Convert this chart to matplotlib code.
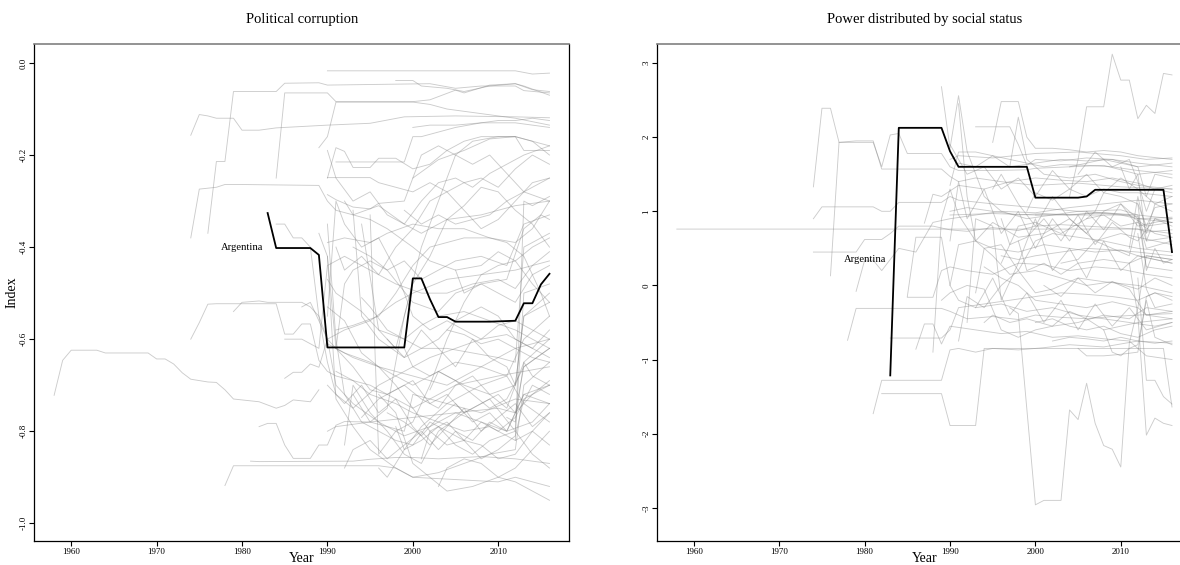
import matplotlib.pyplot as plt

plt.rcParams['font.family'] = 'Liberation Serif'

# Argentina, highlighted in both panels
arg_years_corr = [1983, 1984, 1988, 1989, 1990, 1999, 2000, 2001, 2002, 2003, 2004, 2005,
                  2009, 2012, 2013, 2014, 2015, 2016]
arg_corr = [-0.326, -0.402, -0.402, -0.417, -0.618, -0.618, -0.468, -0.468, -0.513, -0.552,
            -0.552, -0.562, -0.562, -0.56, -0.522, -0.522, -0.481, -0.458]

arg_years_power = [1983, 1984, 1989, 1990, 1991, 1999, 2000, 2005, 2006, 2007, 2015, 2016]
arg_power = [-1.214, 2.126, 2.126, 1.81, 1.60, 1.60, 1.184, 1.184, 1.20, 1.29, 1.29, 0.45]

# other countries: (years, index values)
corruption_lines = [
    ([1958, 1959, 1960, 1963, 1964, 1969, 1970, 1971, 1972, 1973, 1974, 1976, 1977, 1978, 1979, 1982, 1984, 1985, 1986, 1988, 1989],
     [-0.722, -0.646, -0.624, -0.624, -0.63, -0.63, -0.643, -0.643, -0.654, -0.673, -0.687, -0.693, -0.694, -0.71, -0.73, -0.736, -0.75, -0.744, -0.732, -0.736, -0.71]),
    ([1974, 1975, 1976, 1977, 1979, 1980, 1982, 1984, 1990, 1995, 1999, 2005, 2012, 2016],
     [-0.157, -0.112, -0.115, -0.12, -0.12, -0.146, -0.146, -0.141, -0.135, -0.131, -0.117, -0.115, -0.117, -0.119]),
    ([1976, 1977, 1978, 1979, 1984, 1985, 1989, 1990, 2002, 2005, 2008, 2012, 2013, 2016],
     [-0.37, -0.214, -0.214, -0.062, -0.062, -0.044, -0.043, -0.048, -0.045, -0.055, -0.05, -0.05, -0.06, -0.065]),
    ([1974, 1975, 1977, 1978, 1980, 1989, 1990, 1991, 1993, 1996, 1999, 2001, 2004, 2008, 2012, 2016],
     [-0.38, -0.274, -0.27, -0.264, -0.264, -0.266, -0.30, -0.32, -0.33, -0.31, -0.35, -0.37, -0.34, -0.33, -0.31, -0.30]),
    ([1974, 1975, 1976, 1977, 1984, 1985, 1986, 1987, 1988, 1989, 1990, 1991, 1995, 2000, 2005, 2010, 2016],
     [-0.6, -0.564, -0.524, -0.523, -0.523, -0.589, -0.589, -0.567, -0.567, -0.646, -0.67, -0.68, -0.7, -0.75, -0.7, -0.68, -0.66]),
    ([1978, 1979, 1996, 1998, 2000, 2005, 2010, 2012, 2016],
     [-0.918, -0.875, -0.875, -0.88, -0.9, -0.905, -0.91, -0.9, -0.92]),
    ([1981, 1982, 1993, 1995, 1998, 2000, 2003, 2008, 2012, 2016],
     [-0.865, -0.866, -0.865, -0.861, -0.857, -0.857, -0.86, -0.855, -0.86, -0.87]),
    ([1982, 1983, 1984, 1985, 1986, 1988, 1989, 1990, 1991, 1992, 1995, 1999, 2000, 2004, 2008, 2012, 2016],
     [-0.79, -0.783, -0.783, -0.83, -0.859, -0.859, -0.83, -0.83, -0.787, -0.779, -0.78, -0.80, -0.72, -0.74, -0.76, -0.73, -0.74]),
    ([1979, 1980, 1982, 1983, 1985, 1987, 1988, 1989, 1990, 1992, 1995, 1998, 2000, 2004, 2008, 2012, 2016],
     [-0.54, -0.52, -0.517, -0.52, -0.52, -0.52, -0.53, -0.55, -0.6, -0.58, -0.56, -0.52, -0.50, -0.47, -0.46, -0.45, -0.43]),
    ([1985, 1986, 1987, 1988, 1989, 1990, 1991, 1993, 1996, 2000, 2004, 2008, 2012, 2016],
     [-0.685, -0.672, -0.672, -0.654, -0.661, -0.60, -0.62, -0.64, -0.66, -0.68, -0.7, -0.66, -0.62, -0.6]),
    ([1984, 1985, 1990, 1991, 2000, 2002, 2005, 2006, 2009, 2012, 2014, 2016],
     [-0.25, -0.065, -0.065, -0.084, -0.084, -0.08, -0.059, -0.065, -0.048, -0.045, -0.058, -0.062]),
    ([1990, 2012, 2014, 2016], [-0.017, -0.017, -0.024, -0.022]),
    ([1998, 2000, 2001, 2004, 2006, 2009, 2012, 2013, 2016],
     [-0.038, -0.038, -0.05, -0.055, -0.062, -0.05, -0.045, -0.05, -0.07]),
    ([1989, 1990, 1991, 2000, 2002, 2004, 2008, 2012, 2016],
     [-0.184, -0.16, -0.085, -0.085, -0.09, -0.1, -0.11, -0.12, -0.135]),
    ([1990, 1991, 1992, 1993, 1995, 1996, 1998, 2000, 2002, 2004, 2006, 2008, 2010, 2012, 2013, 2016],
     [-0.25, -0.184, -0.192, -0.227, -0.227, -0.207, -0.207, -0.23, -0.22, -0.19, -0.17, -0.16, -0.16, -0.16, -0.19, -0.19]),
    ([1990, 1991, 1993, 1995, 1996, 1999, 2000, 2003, 2006, 2009, 2012, 2014, 2016],
     [-0.286, -0.297, -0.313, -0.317, -0.305, -0.30, -0.25, -0.21, -0.19, -0.165, -0.16, -0.17, -0.2]),
    ([1991, 1999, 2000, 2001, 2003, 2005, 2008, 2012, 2016],
     [-0.215, -0.215, -0.16, -0.16, -0.15, -0.14, -0.13, -0.13, -0.14]),
    ([1990, 1995, 1996, 1998, 2000, 2002, 2004, 2006, 2008, 2010, 2012, 2014, 2016],
     [-0.249, -0.249, -0.26, -0.27, -0.28, -0.26, -0.28, -0.26, -0.25, -0.27, -0.23, -0.2, -0.22]),
    ([1993, 1995, 1997, 1999, 2001, 2003, 2005, 2007, 2010, 2012, 2016],
     [-0.72, -0.78, -0.75, -0.55, -0.4, -0.3, -0.2, -0.17, -0.16, -0.16, -0.18]),
    ([1994, 1996, 1998, 2000, 2002, 2004, 2006, 2008, 2010, 2012, 2014, 2016],
     [-0.35, -0.58, -0.62, -0.48, -0.42, -0.34, -0.31, -0.27, -0.28, -0.32, -0.35, -0.4]),
    ([1990, 1991, 1992, 1994, 1996, 1998, 2000, 2002, 2004, 2006, 2008, 2010, 2012, 2014, 2016],
     [-0.35, -0.6, -0.72, -0.78, -0.8, -0.82, -0.83, -0.78, -0.8, -0.82, -0.83, -0.86, -0.85, -0.8, -0.76]),
    ([1990, 1991, 1993, 1995, 1997, 1999, 2001, 2003, 2005, 2007, 2009, 2011, 2013, 2016],
     [-0.42, -0.62, -0.66, -0.71, -0.72, -0.7, -0.73, -0.75, -0.7, -0.68, -0.72, -0.75, -0.65, -0.6]),
    ([1989, 1990, 1991, 1993, 1995, 1998, 2000, 2003, 2006, 2009, 2012, 2013, 2016],
     [-0.37, -0.42, -0.73, -0.79, -0.84, -0.88, -0.9, -0.89, -0.87, -0.85, -0.84, -0.7, -0.65]),
    ([1990, 1992, 1994, 1996, 1998, 2000, 2002, 2004, 2006, 2008, 2010, 2012, 2014, 2016],
     [-0.53, -0.56, -0.63, -0.66, -0.7, -0.75, -0.8, -0.83, -0.82, -0.78, -0.8, -0.77, -0.7, -0.72]),
    ([1991, 1992, 1993, 1995, 1997, 2000, 2003, 2005, 2008, 2011, 2013, 2015, 2016],
     [-0.62, -0.48, -0.45, -0.43, -0.45, -0.52, -0.54, -0.5, -0.48, -0.47, -0.36, -0.33, -0.34]),
    ([1993, 1994, 1996, 1999, 2000, 2003, 2005, 2008, 2010, 2012, 2014, 2016],
     [-0.32, -0.55, -0.6, -0.64, -0.63, -0.6, -0.56, -0.53, -0.55, -0.6, -0.62, -0.58]),
    ([1992, 1993, 1995, 1997, 1999, 2001, 2003, 2006, 2009, 2012, 2013, 2016],
     [-0.83, -0.7, -0.76, -0.8, -0.85, -0.87, -0.8, -0.76, -0.73, -0.8, -0.5, -0.48]),
    ([1996, 1998, 2000, 2002, 2004, 2007, 2010, 2012, 2014, 2016],
     [-0.72, -0.76, -0.87, -0.9, -0.93, -0.92, -0.9, -0.91, -0.93, -0.95]),
    ([1998, 1999, 2001, 2003, 2005, 2007, 2009, 2012, 2014, 2016],
     [-0.79, -0.84, -0.82, -0.79, -0.83, -0.85, -0.82, -0.8, -0.85, -0.88]),
    ([2003, 2004, 2006, 2008, 2010, 2012, 2014, 2016],
     [-0.92, -0.88, -0.86, -0.87, -0.9, -0.88, -0.84, -0.8]),
    ([1999, 2000, 2002, 2005, 2008, 2011, 2013, 2016],
     [-0.62, -0.66, -0.68, -0.65, -0.66, -0.68, -0.6, -0.55]),
    ([1990, 1991, 1994, 1996, 1999, 2001, 2004, 2007, 2010, 2012, 2013, 2016],
     [-0.47, -0.5, -0.54, -0.58, -0.6, -0.62, -0.62, -0.63, -0.64, -0.65, -0.4, -0.37]),
    ([1991, 1993, 1996, 1998, 2000, 2002, 2004, 2006, 2009, 2012, 2014, 2016],
     [-0.58, -0.57, -0.55, -0.5, -0.44, -0.4, -0.39, -0.38, -0.38, -0.39, -0.36, -0.3]),
    ([1994, 1996, 1998, 2000, 2002, 2004, 2006, 2008, 2010, 2012, 2014, 2016],
     [-0.77, -0.73, -0.71, -0.69, -0.74, -0.72, -0.76, -0.74, -0.72, -0.76, -0.72, -0.69]),
    ([1997, 1999, 2001, 2003, 2005, 2007, 2009, 2011, 2013, 2016],
     [-0.76, -0.78, -0.81, -0.77, -0.74, -0.78, -0.76, -0.8, -0.72, -0.7]),
    ([1990, 1992, 1995, 1998, 2000, 2003, 2006, 2009, 2012, 2013, 2016],
     [-0.61, -0.63, -0.65, -0.68, -0.7, -0.67, -0.7, -0.72, -0.7, -0.55, -0.5]),
    ([1985, 1987, 1989, 1990, 1992, 1995, 1998, 2001, 2004, 2007, 2010, 2012, 2014, 2016],
     [-0.6, -0.6, -0.62, -0.44, -0.42, -0.45, -0.48, -0.5, -0.5, -0.48, -0.47, -0.49, -0.44, -0.41]),
    ([1987, 1988, 1989, 1990, 1991, 1993, 1996, 1999, 2002, 2005, 2008, 2011, 2014, 2016],
     [-0.53, -0.52, -0.56, -0.6, -0.7, -0.74, -0.78, -0.81, -0.79, -0.76, -0.78, -0.8, -0.78, -0.74]),
    ([1984, 1985, 1986, 1987, 1988, 1989, 1990, 1991, 1993, 1996, 1999, 2002, 2005, 2008, 2011, 2014, 2016],
     [-0.35, -0.35, -0.38, -0.38, -0.4, -0.55, -0.65, -0.72, -0.75, -0.7, -0.67, -0.64, -0.62, -0.6, -0.59, -0.62, -0.64]),
    ([2004, 2006, 2008, 2010, 2012, 2014, 2016],
     [-0.58, -0.59, -0.61, -0.6, -0.62, -0.64, -0.65]),
    ([1999, 2001, 2003, 2005, 2007, 2009, 2011, 2013, 2016],
     [-0.32, -0.35, -0.33, -0.35, -0.34, -0.33, -0.3, -0.28, -0.25]),
    ([1990, 1992, 1995, 1997, 2000, 2003, 2006, 2009, 2011, 2013, 2015, 2016],
     [-0.39, -0.38, -0.39, -0.37, -0.35, -0.36, -0.36, -0.38, -0.39, -0.42, -0.5, -0.55]),
    ([1996, 1997, 1999, 2001, 2004, 2006, 2008, 2011, 2013, 2016],
     [-0.88, -0.9, -0.84, -0.79, -0.74, -0.72, -0.7, -0.68, -0.74, -0.78]),
    ([2001, 2002, 2004, 2006, 2008, 2010, 2012, 2013, 2016],
     [-0.86, -0.8, -0.78, -0.82, -0.86, -0.84, -0.81, -0.73, -0.7]),
    ([1992, 1993, 1995, 1997, 2000, 2002, 2005, 2008, 2010, 2012, 2014, 2016],
     [-0.3, -0.33, -0.34, -0.36, -0.4, -0.43, -0.45, -0.44, -0.41, -0.43, -0.48, -0.52]),
    ([1990, 1991, 1995, 2000, 2005, 2010, 2012, 2013, 2016],
     [-0.8, -0.79, -0.78, -0.77, -0.76, -0.75, -0.76, -0.66, -0.62]),
    ([2002, 2003, 2005, 2007, 2009, 2011, 2013, 2016],
     [-0.71, -0.67, -0.69, -0.72, -0.75, -0.73, -0.66, -0.62]),
    ([1994, 1995, 1997, 1999, 2001, 2003, 2006, 2009, 2012, 2014, 2016],
     [-0.51, -0.53, -0.58, -0.6, -0.57, -0.55, -0.54, -0.56, -0.58, -0.6, -0.62]),
    ([1991, 1993, 1995, 1998, 2000, 2003, 2006, 2009, 2012, 2014, 2016],
     [-0.67, -0.69, -0.72, -0.74, -0.76, -0.78, -0.8, -0.79, -0.82, -0.8, -0.83]),
    ([2012, 2013, 2014, 2016], [-0.82, -0.3, -0.31, -0.29]),
    ([2011, 2012, 2013, 2014, 2016], [-0.77, -0.78, -0.65, -0.68, -0.7]),
    ([2000, 2002, 2005, 2008, 2010, 2012, 2014, 2016],
     [-0.14, -0.135, -0.135, -0.13, -0.125, -0.125, -0.12, -0.125]),
    ([1990, 1991, 1993, 1995, 1997, 1999, 2001, 2003, 2005, 2007, 2009, 2011, 2013, 2016],
     [-0.19, -0.25, -0.3, -0.28, -0.33, -0.35, -0.3, -0.26, -0.25, -0.27, -0.24, -0.22, -0.2, -0.18]),
    ([1991, 1992, 1994, 1996, 1998, 2000, 2002, 2004, 2006, 2008, 2010, 2012, 2014, 2016],
     [-0.4, -0.45, -0.42, -0.46, -0.4, -0.36, -0.3, -0.28, -0.32, -0.36, -0.34, -0.3, -0.26, -0.25]),
    ([1995, 1996, 1998, 2000, 2002, 2004, 2006, 2008, 2010, 2012, 2014, 2016],
     [-0.33, -0.85, -0.8, -0.78, -0.7, -0.6, -0.52, -0.46, -0.44, -0.43, -0.4, -0.38]),
    ([1990, 1992, 1994, 1996, 1998, 2000, 2002, 2004, 2006, 2008, 2010, 2012, 2014, 2016],
     [-0.7, -0.74, -0.7, -0.76, -0.73, -0.79, -0.83, -0.79, -0.75, -0.8, -0.77, -0.74, -0.79, -0.76]),
    ([1997, 1999, 2001, 2003, 2005, 2007, 2009, 2011, 2012, 2013, 2016],
     [-0.6, -0.64, -0.58, -0.62, -0.66, -0.6, -0.64, -0.66, -0.7, -0.55, -0.52]),
    ([2000, 2001, 2003, 2005, 2007, 2009, 2011, 2013, 2016],
     [-0.25, -0.2, -0.18, -0.2, -0.22, -0.2, -0.24, -0.28, -0.3]),
    ([1992, 1993, 1995, 1997, 1999, 2001, 2003, 2005, 2007, 2009, 2011, 2013, 2016],
     [-0.88, -0.84, -0.82, -0.86, -0.83, -0.8, -0.84, -0.8, -0.82, -0.78, -0.8, -0.72, -0.74]),
    ([2005, 2006, 2008, 2010, 2012, 2014, 2016],
     [-0.45, -0.5, -0.48, -0.5, -0.52, -0.46, -0.44]),
    ([1990, 1991, 1992, 1994, 1996, 1998, 2000, 2002, 2004, 2006, 2008, 2010, 2012, 2014, 2016],
     [-0.55, -0.3, -0.35, -0.4, -0.38, -0.45, -0.55, -0.58, -0.56, -0.58, -0.6, -0.57, -0.56, -0.58, -0.6]),
    ([1993, 1995, 1997, 1999, 2001, 2003, 2005, 2008, 2011, 2013, 2016],
     [-0.4, -0.42, -0.45, -0.43, -0.47, -0.45, -0.43, -0.42, -0.44, -0.35, -0.33]),
]

power_lines = [
    ([1958, 2012, 2013, 2016], [0.76, 0.76, 0.72, 0.75]),
    ([1974, 1975, 1976, 1977, 1981, 1982, 1983, 1984, 1985, 1989, 1990, 1991, 1995, 1999, 2000, 2004, 2008, 2012, 2016],
     [1.33, 2.39, 2.39, 1.93, 1.93, 1.6, 2.03, 2.05, 1.78, 1.78, 1.6, 1.55, 1.55, 1.56, 1.58, 1.6, 1.62, 1.5, 1.55]),
    ([1974, 1975, 1981, 1982, 1983, 1984, 1989, 1990, 1991, 1995, 2000, 2005, 2010, 2012, 2016],
     [0.9, 1.06, 1.06, 1.0, 1.0, 1.12, 1.12, 1.2, 1.15, 1.1, 1.05, 1.0, 1.02, 0.95, 0.9]),
    ([1974, 1979, 1980, 1982, 1983, 1984, 1985, 1988, 1990, 1992, 1995, 1998, 2000, 2003, 2006, 2009, 2012, 2016],
     [0.45, 0.45, 0.62, 0.62, 0.7, 0.8, 0.8, 0.8, 0.75, 0.73, 0.78, 0.74, 0.8, 0.82, 0.8, 0.78, 0.76, 0.7]),
    ([1976, 1977, 1979, 1981, 1982, 1989, 1990, 1991, 1993, 1996, 2000, 2005, 2010, 2016],
     [0.13, 1.93, 1.95, 1.95, 1.57, 1.57, 1.47, 1.4, 1.45, 1.4, 1.35, 1.38, 1.33, 1.3]),
    ([1978, 1979, 1989, 1990, 1992, 1995, 1998, 2000, 2003, 2006, 2009, 2012, 2016],
     [-0.74, -0.31, -0.31, -0.35, -0.45, -0.42, -0.46, -0.4, -0.43, -0.45, -0.42, -0.4, -0.38]),
    ([1981, 1982, 1989, 1990, 1991, 1993, 1995, 1998, 2001, 2004, 2008, 2012, 2016],
     [-1.73, -1.28, -1.28, -0.87, -0.85, -0.9, -0.85, -0.87, -0.84, -0.8, -0.83, -0.75, -0.78]),
    ([1982, 1989, 1990, 1993, 1994, 2015, 2016],
     [-1.46, -1.46, -1.89, -1.89, -0.85, -0.85, -1.64]),
    ([1997, 1998, 2000, 2001, 2003, 2004, 2005, 2006, 2007, 2008, 2009, 2010, 2011, 2012, 2013, 2016],
     [-0.3, -0.38, -2.96, -2.9, -2.9, -1.68, -1.81, -1.32, -1.86, -2.16, -2.21, -2.45, -0.78, -0.3, -0.4, -0.45]),
    ([2004, 2005, 2006, 2008, 2009, 2010, 2011, 2012, 2013, 2014, 2015, 2016],
     [1.2, 1.7, 2.41, 2.41, 3.12, 2.77, 2.77, 2.25, 2.43, 2.32, 2.86, 2.84]),
    ([1995, 1996, 1998, 1999, 2000, 2002, 2004, 2006, 2008, 2010, 2012, 2016],
     [1.93, 2.48, 2.48, 2.0, 1.85, 1.85, 1.83, 1.8, 1.82, 1.8, 1.75, 1.7]),
    ([1993, 1997, 1998, 1999, 2000, 2003, 2006, 2009, 2012, 2016],
     [2.14, 2.14, 1.9, 1.62, 1.7, 1.68, 1.72, 1.7, 1.65, 1.6]),
    ([1997, 1998, 1999, 2001, 2004, 2007, 2010, 2012, 2016],
     [1.6, 2.27, 1.7, 1.5, 1.45, 1.5, 1.4, 1.35, 1.3]),
    ([1989, 1990, 1991, 1992, 1994, 1996, 1999, 2002, 2005, 2008, 2011, 2013, 2016],
     [2.68, 1.85, 2.56, 1.81, 1.2, 1.0, 0.9, 0.95, 1.0, 0.98, 0.95, 0.8, 0.85]),
    ([1991, 1992, 1993, 1995, 1998, 2001, 2004, 2007, 2010, 2012, 2014, 2016],
     [2.45, 1.2, 0.6, 0.5, 0.45, 0.55, 0.5, 0.45, 0.48, 0.4, 0.35, 0.3]),
    ([1985, 1988, 1989, 1990, 1992, 1995, 1998, 2001, 2004, 2007, 2010, 2013, 2016],
     [-0.16, -0.16, 0.2, 0.25, 0.2, 0.15, 0.3, 0.28, 0.2, 0.25, 0.22, 0.15, 0.1]),
    ([1986, 1987, 1988, 1989, 1990, 1993, 1996, 1999, 2002, 2005, 2008, 2011, 2013, 2016],
     [-0.86, -0.52, -0.52, -0.79, -0.55, -0.6, -0.65, -0.62, -0.7, -0.68, -0.72, -0.75, -0.95, -1.0]),
    ([1983, 1989, 1990, 1991, 1994, 1997, 2000, 2003, 2006, 2009, 2012, 2014, 2016],
     [-0.71, -0.71, -0.6, -0.3, -0.25, -0.2, -0.15, -0.1, -0.12, -0.15, -0.2, -0.1, -0.15]),
    ([1979, 1980, 1981, 1982, 1984, 1986, 1988, 1990, 1993, 1996, 2000, 2004, 2008, 2012, 2016],
     [-0.08, 0.34, 0.34, 0.2, 0.5, 0.45, 0.85, 0.9, 0.95, 1.0, 0.98, 1.05, 1.1, 1.15, 1.1]),
    ([1987, 1988, 1989, 1991, 1994, 1997, 2000, 2003, 2006, 2009, 2012, 2014, 2016],
     [0.84, 1.23, 1.2, 1.35, 1.3, 1.4, 1.45, 1.42, 1.4, 1.45, 1.38, 1.3, 1.25]),
    ([1985, 1986, 1989, 1990, 1991, 1993, 1996, 1999, 2002, 2005, 2008, 2011, 2014, 2016],
     [-0.15, 0.65, 0.65, 0.0, -0.2, -0.3, -0.25, -0.35, -0.3, -0.4, -0.45, -0.5, -0.55, -0.5]),
    ([1990, 1991, 1993, 1995, 1997, 2000, 2003, 2006, 2009, 2012, 2014, 2016],
     [0.0, 0.55, 0.6, 0.4, 0.15, 0.2, 0.1, 0.0, 0.05, -0.05, 0.1, 0.0]),
    ([1990, 1992, 1995, 1998, 2001, 2004, 2007, 2010, 2012, 2016],
     [1.0, 1.05, 1.0, 0.95, 0.97, 0.95, 0.98, 0.95, 0.9, 0.92]),
    ([1990, 1991, 1995, 2000, 2005, 2010, 2013, 2016],
     [1.7, 1.75, 1.72, 1.78, 1.8, 1.75, 1.7, 1.72]),
    ([1991, 1992, 1994, 1996, 1998, 2000, 2002, 2005, 2008, 2012, 2016],
     [-0.75, -0.15, -0.3, 0.0, 0.2, -0.1, -0.05, 0.1, 0.05, 0.0, -0.1]),
    ([1993, 1994, 1996, 1998, 2000, 2002, 2005, 2008, 2010, 2012, 2016],
     [-0.1, 0.5, 0.55, 0.2, 0.6, 0.7, 0.65, 0.6, 0.55, 0.5, 0.45]),
    ([1995, 1996, 1998, 2000, 2002, 2004, 2006, 2008, 2010, 2012, 2016],
     [1.3, 1.5, 1.1, 0.8, 1.2, 0.9, 0.7, 1.0, 1.1, 0.9, 0.85]),
    ([1996, 1998, 2000, 2003, 2006, 2008, 2010, 2012, 2014, 2016],
     [0.3, 0.8, 0.85, 0.7, 0.9, 0.95, 0.8, 0.85, 0.7, 0.65]),
    ([2000, 2002, 2004, 2006, 2008, 2010, 2012, 2014, 2016],
     [-0.5, -0.45, -0.55, -0.6, -0.55, -0.65, -0.7, -0.6, -0.55]),
    ([2003, 2005, 2007, 2009, 2011, 2012, 2013, 2016],
     [0.3, 0.35, 0.6, 0.5, 0.4, 0.9, 0.5, 0.6]),
    ([2008, 2009, 2010, 2011, 2012, 2013, 2014, 2016],
     [-0.6, -0.9, -0.95, -0.85, -0.8, -0.2, -0.7, -0.8]),
    ([2005, 2006, 2008, 2010, 2012, 2013, 2014, 2016],
     [-0.85, -0.95, -0.95, -0.93, -0.9, -0.15, -0.1, -0.2]),
    ([2012, 2013, 2014, 2015, 2016], [1.1, 0.2, 0.5, 0.3, 0.35]),
    ([2011, 2012, 2013, 2014, 2016], [0.5, 1.2, 0.7, 1.1, 1.0]),
    ([2012, 2013, 2014, 2016], [0.7, -0.05, -0.3, -0.25]),
    ([2000, 2005, 2010, 2012, 2013, 2016], [0.95, 0.95, 0.95, 0.93, 0.25, 0.2]),
    ([1991, 1993, 1995, 1997, 1999, 2001, 2003, 2006, 2009, 2012, 2016],
     [1.65, 1.6, 1.75, 1.7, 1.65, 1.6, 1.63, 1.62, 1.6, 1.55, 1.5]),
    ([1998, 1999, 2001, 2003, 2005, 2008, 2011, 2013, 2016],
     [0.6, 0.2, 0.3, 0.15, 0.3, 0.35, 0.3, 0.4, 0.35]),
    ([1994, 1995, 1997, 1999, 2002, 2005, 2008, 2011, 2013, 2016],
     [-0.5, -0.4, -0.5, -0.45, -0.55, -0.5, -0.4, -0.45, -0.3, -0.35]),
    ([2002, 2004, 2006, 2008, 2010, 2012, 2014, 2016],
     [-0.75, -0.7, -0.72, -0.75, -0.7, -0.75, -0.78, -0.75]),
    ([1990, 1991, 1993, 1995, 1997, 2000, 2003, 2006, 2009, 2012, 2016],
     [1.35, 1.8, 1.8, 1.75, 1.6, 1.65, 1.7, 1.68, 1.7, 1.6, 1.65]),
    ([2005, 2007, 2009, 2011, 2012, 2013, 2014, 2016],
     [1.5, 1.8, 1.6, 1.7, 1.4, 1.0, 1.3, 1.35]),
    ([2012, 2013, 2014, 2015, 2016], [0.1, -1.28, -1.28, -1.5, -1.6]),
    ([2011, 2012, 2013, 2014, 2015, 2016], [0.3, -0.4, -2.02, -1.79, -1.86, -1.89]),
    ([1996, 1998, 2000, 2003, 2006, 2009, 2012, 2016],
     [0.4, 0.35, 0.4, 0.45, 0.5, 0.48, 0.45, 0.4]),
    ([2006, 2007, 2008, 2010, 2012, 2013, 2014, 2016],
     [0.9, 1.0, 1.25, 1.2, 1.1, 0.8, 1.05, 1.1]),
    ([1989, 1990, 1992, 1994, 1996, 1998, 2000, 2002, 2004, 2006, 2008, 2010, 2012, 2016],
     [-0.2, -0.1, 0.0, -0.05, -0.6, -0.7, -0.6, -0.55, -0.35, -0.45, -0.6, -0.55, -0.5, -0.45]),
    ([1990, 1991, 1992, 1994, 1996, 1998, 2000, 2002, 2004, 2006, 2008, 2010, 2012, 2016],
     [0.6, 1.4, 0.9, 1.3, 0.7, 1.0, 0.5, 0.9, 0.6, 1.0, 0.75, 1.1, 0.8, 0.9]),
    ([1992, 1993, 1995, 1996, 1998, 2000, 2002, 2004, 2006, 2008, 2010, 2012, 2016],
     [-0.5, 0.9, 0.8, -0.2, 0.3, 0.9, 0.2, 0.5, 0.1, 0.6, 0.2, 0.4, 0.3]),
    ([1990, 1992, 1994, 1996, 1998, 2000, 2002, 2004, 2006, 2008, 2010, 2012, 2014, 2016],
     [1.9, 1.5, 1.6, 1.3, 1.45, 1.2, 1.55, 1.3, 1.5, 1.25, 1.45, 1.3, 1.1, 1.2]),
    ([1993, 1995, 1997, 1999, 2001, 2003, 2005, 2007, 2009, 2011, 2013, 2016],
     [-0.3, 0.1, -0.4, -0.1, -0.5, -0.2, -0.6, -0.25, -0.55, -0.3, -0.6, -0.5]),
    ([1996, 1997, 1999, 2001, 2003, 2005, 2007, 2009, 2011, 2012, 2014, 2016],
     [0.9, 0.55, 0.65, 0.9, 0.6, 0.95, 0.55, 0.85, 0.65, 0.6, 0.9, 0.8]),
    ([1999, 2000, 2002, 2004, 2006, 2008, 2010, 2012, 2016],
     [1.0, 1.25, 1.15, 1.3, 1.2, 1.3, 1.25, 1.25, 1.2]),
    ([1990, 1995, 2000, 2005, 2008, 2012, 2013, 2016],
     [0.95, 0.97, 0.95, 0.96, 0.98, 0.95, 0.6, 0.65]),
    ([1994, 1996, 1998, 2000, 2003, 2006, 2009, 2012, 2013, 2016],
     [0.25, 0.1, 0.0, -0.2, -0.25, -0.3, -0.22, -0.3, 0.4, 0.35]),
    ([2001, 2003, 2005, 2007, 2009, 2011, 2013, 2016],
     [0.0, -0.15, 0.1, -0.1, 0.05, -0.05, -0.4, -0.35]),
    ([2004, 2006, 2008, 2010, 2012, 2013, 2014, 2016],
     [1.6, 1.65, 1.7, 1.65, 1.6, 1.2, 1.5, 1.45]),
    ([2010, 2011, 2012, 2013, 2014, 2016], [1.6, 1.3, 1.5, 0.6, 0.9, 0.85]),
    ([1988, 1989, 1990, 1991, 1993, 1995, 1998, 2001, 2004, 2007, 2010, 2012, 2016],
     [-0.9, 0.9, 1.3, 0.95, 0.6, 0.85, 0.65, 0.7, 0.9, 0.6, 0.7, 0.65, 0.55]),
]

year_ticks = [1960, 1970, 1980, 1990, 2000, 2010]
corr_ticks = [0.0, -0.2, -0.4, -0.6, -0.8, -1.0]
power_ticks = [3, 2, 1, 0, -1, -2, -3]

W, H = 1180, 565
fig = plt.figure(figsize=(W / 100, H / 100), dpi=100)
ax1 = fig.add_axes([34.3 / W, 24 / H, 535 / W, 496.7 / H])
ax2 = fig.add_axes([657 / W, 24 / H, 534.8 / W, 496.7 / H])


def draw_panel(ax, lines, arg_x, arg_y, title, yticks, ylabels, ylim, label_y):
    for yrs, vals in lines:
        ax.plot(yrs, vals, color='grey', alpha=0.4, lw=0.65)
    ax.plot(arg_x, arg_y, color='black', lw=1.3)
    ax.text(1980, label_y, 'Argentina', fontsize=7.6, ha='center', va='center')
    ax.set_xlim(1955.68, 2018.32)
    ax.set_ylim(*ylim)
    ax.set_xticks(year_ticks)
    ax.set_xticklabels([str(y) for y in year_ticks])
    ax.set_yticks(yticks)
    ax.set_yticklabels(ylabels, rotation=90, va='center')
    ax.tick_params(length=3.6, width=0.8, labelsize=6.5)
    ax.tick_params(axis='x', pad=1.8)
    ax.tick_params(axis='y', pad=1)
    ax.set_title(title, fontsize=10.5, pad=15)
    ax.set_xlabel('Year', fontsize=10, labelpad=-3.5)
    for side in ['left', 'right', 'bottom']:
        ax.spines[side].set_linewidth(0.9)
    ax.spines['top'].set_color('#808080')
    ax.spines['top'].set_linewidth(1.2)


draw_panel(ax1, corruption_lines, arg_years_corr, arg_corr, 'Political corruption',
           corr_ticks, ['0.0', '-0.2', '-0.4', '-0.6', '-0.8', '-1.0'], (-1.0385, 0.0406), -0.40)
ax1.set_ylabel('Index', fontsize=10, labelpad=1)

draw_panel(ax2, power_lines, arg_years_power, arg_power, 'Power distributed by social status',
           power_ticks, [str(t) for t in power_ticks], (-3.448, 3.253), 0.35)

fig.savefig('out.png', dpi=100)
